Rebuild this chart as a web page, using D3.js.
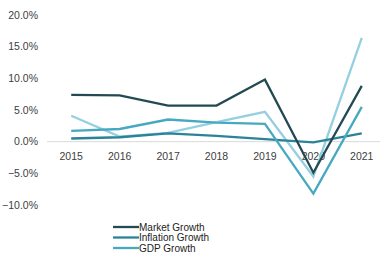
<!DOCTYPE html>
<html>
<head>
<meta charset="utf-8">
<script src="https://cdn.jsdelivr.net/npm/d3@7"></script>
<style>
  body { margin: 0; background: #fff; }
  svg { display: block; }
</style>
</head>
<body>
<svg id="chart" width="382" height="260"></svg>
<script>
// data
const years = ['2015', '2016', '2017', '2018', '2019', '2020', '2021']
const marketGrowth = [7.4, 7.3, 5.7, 5.7, 9.8, -4.9, 8.8]
const inflationGrowth = [0.5, 0.7, 1.3, 0.9, 0.4, -0.1, 1.3]
const gdpGrowth = [1.7, 2.0, 3.5, 3.0, 2.8, -8.2, 5.5]
const otherGrowth = [4.1, 0.8, 1.4, 3.1, 4.7, -5.5, 16.4]
const yTicks = [-10, -5, 0, 5, 10, 15, 20]

const series = [
  { name: 'Other', values: otherGrowth, color: '#94d0e1' },
  { name: 'Inflation Growth', values: inflationGrowth, color: '#2b8299' },
  { name: 'GDP Growth', values: gdpGrowth, color: '#47a9c1' },
  { name: 'Market Growth', values: marketGrowth, color: '#234a52' },
]
const legendOrder = ['Market Growth', 'Inflation Growth', 'GDP Growth']

const margin = { top: 15, left: 47 }

const svg = d3.select('#chart')

const x = d3
  .scaleBand()
  .domain(years)
  .range([margin.left, 386])

const y = d3
  .scaleLinear()
  .domain([-10, 20])
  .range([205, 15])

// zero line
svg
  .append('line')
  .attr('x1', margin.left)
  .attr('x2', 380)
  .attr('y1', y(0))
  .attr('y2', y(0))
  .attr('stroke', '#d9d9d9')
  .attr('stroke-width', 1)

// y labels
svg
  .append('g')
  .attr('font-family', 'Liberation Sans, Arial, sans-serif')
  .attr('font-size', 10.5)
  .attr('fill', '#404040')
  .selectAll('text')
  .data(yTicks)
  .join('text')
  .attr('x', 38)
  .attr('y', (d) => y(d))
  .attr('dy', '0.35em')
  .attr('text-anchor', 'end')
  .text((d) => d3.format('.1f')(d) + '%')

// x labels
svg
  .append('g')
  .attr('font-family', 'Liberation Sans, Arial, sans-serif')
  .attr('font-size', 10.5)
  .attr('fill', '#404040')
  .selectAll('text')
  .data(years)
  .join('text')
  .attr('x', (d) => x(d) + x.bandwidth() / 2)
  .attr('y', 156)
  .attr('dy', '0.35em')
  .attr('text-anchor', 'middle')
  .text((d) => d)

const line = d3
  .line()
  .x((d, i) => x(years[i]) + x.bandwidth() / 2)
  .y((d) => y(d))

svg
  .append('g')
  .attr('fill', 'none')
  .selectAll('path')
  .data(series)
  .join('path')
  .attr('d', (d) => line(d.values))
  .attr('stroke', (d) => d.color)
  .attr('stroke-width', 2.3)

// legend
const legend = svg
  .append('g')
  .attr('font-family', 'Liberation Sans, Arial, sans-serif')
  .attr('font-size', 10)
  .attr('fill', '#222')
  .selectAll('g')
  .data(legendOrder.map((n) => series.find((s) => s.name === n)))
  .join('g')
  .attr('transform', (d, i) => `translate(113, ${227 + i * 10.5})`)

legend
  .append('line')
  .attr('x1', 0)
  .attr('x2', 26)
  .attr('stroke', (d) => d.color)
  .attr('stroke-width', 2.3)

legend
  .append('text')
  .attr('x', 26)
  .attr('dy', '0.35em')
  .text((d) => d.name)
</script>
</body>
</html>
